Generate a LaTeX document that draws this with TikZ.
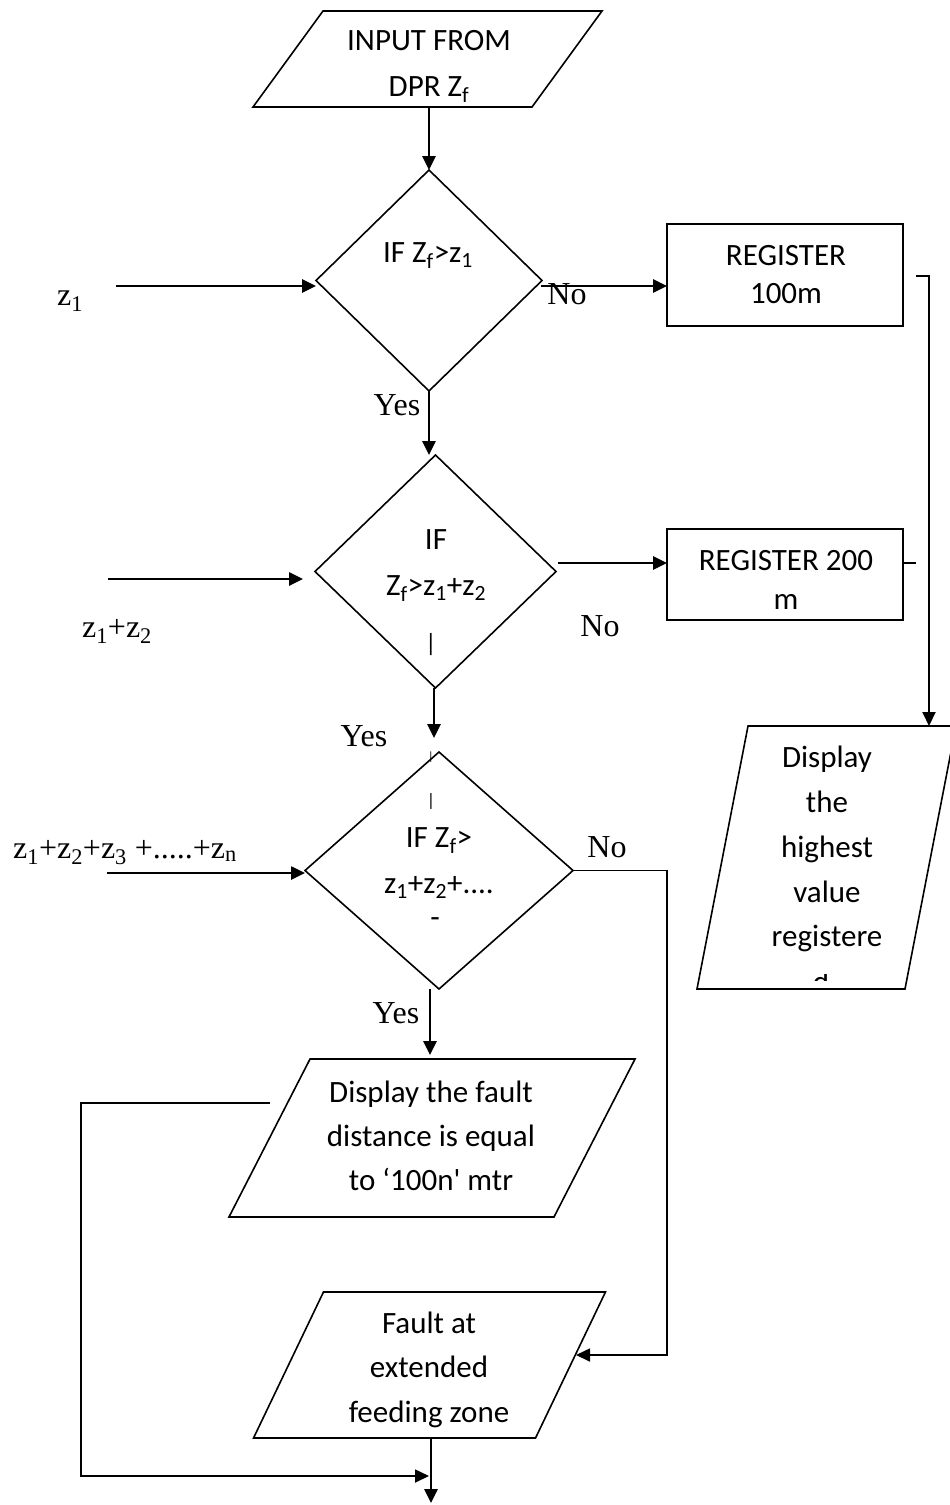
\documentclass[tikz,border=0pt]{standalone}
\usepackage{fontspec}
\setmainfont{Liberation Serif}
\newfontfamily\boxfont{Carlito}[Ligatures=TeXOff]
\usetikzlibrary{arrows.meta,shapes.geometric}
\newcommand\subidx[1]{\textsubscript{#1}}

\begin{document}
\begin{tikzpicture}[x=1pt,y=-1pt,
  outline/.style={draw=black, line width=1.6pt, inner sep=0pt, outer sep=0pt},
  decide/.style={outline, diamond},
  regbox/.style={outline, rectangle},
  iobox/.style={outline, rectangle, xslant=#1},
  flow/.style={line width=2.6pt, -{Triangle[length=14pt,width=13pt]}},
  flowthin/.style={line width=1.7pt, -{Triangle[length=14pt,width=13pt]}},
  plain/.style={line width=1.7pt},
  boxtxt/.style={font=\boxfont\fontsize{31}{#1}\selectfont, align=center, inner sep=0pt},
  boxtxt/.default=45,
  frag/.style={font=\boxfont\fontsize{#1}{#1}\selectfont, inner sep=0pt},
  lbl/.style={font=\fontsize{32}{38}\selectfont, inner sep=0pt, anchor=base},
]
\useasboundingbox (0,0) rectangle (950,1505);
\fill[white] (0,0) rectangle (950,1505);
\clip (0,0) rectangle (950,1505);

% ---------- shapes ----------
\node[iobox=0.729, minimum width=279pt, minimum height=96pt] (in) at (427.5,59) {};
\node[decide, minimum width=226pt, minimum height=221pt] (d1) at (429,280.5) {};
\node[regbox, minimum width=236pt, minimum height=102pt] (r1) at (785,275) {};
\node[decide, minimum width=241pt, minimum height=233pt] (d2) at (435.5,571.5) {};
\node[regbox, minimum width=236pt, minimum height=91pt] (r2) at (785,574.5) {};
\node[decide, minimum width=268pt, minimum height=237pt] (d3) at (439,870.5) {};
\node[iobox=0.194, minimum width=208pt, minimum height=263pt] (rd) at (826.5,857.5) {};
\node[iobox=0.513, minimum width=325pt, minimum height=158pt] (df) at (432,1138) {};
\node[iobox=0.479, minimum width=282pt, minimum height=146pt] (fz) at (429.5,1365) {};

% ---------- texts inside shapes ----------
\node[boxtxt=46] (tin) at (429,63.8) {\strut INPUT FROM\\\strut DPR Z\subidx{f}};
\node[boxtxt] (t1) at (428,253) {\strut IF Z\subidx{f}>z\subidx{1}};
\node[boxtxt=38] (tr1) at (786,276.4) {\strut REGISTER\\\strut 100m};
\node[boxtxt=46] (t2) at (436,562.8) {\strut IF\\\strut Z\subidx{f}>z\subidx{1}+z\subidx{2}};
\node[frag=25] (f2) at (431,645) {|};
\node[boxtxt=39] (tr2) at (786,581.7) {\strut REGISTER 200\\\strut m};
\node[frag=12] (f3a) at (431,757.5) {|};
\node[frag=18] (f3b) at (431,801.5) {|};
\node[boxtxt=46] (t3) at (439,860.8) {\strut IF Z\subidx{f}>\\\strut z\subidx{1}+z\subidx{2}+....};
\node[frag=31] (f3c) at (435,923) {-};
\node[boxtxt=44.75] (trd) at (827,848.5) {\strut Display\\\strut the\\\strut highest\\\strut value\\\strut registere};
\begin{scope}
  \clip (790,974) rectangle (860,980);
  \node[frag=31, anchor=base] (trdd) at (821,992) {d};
\end{scope}
\node[boxtxt=44] (tdf) at (431,1137.2) {\strut Display the fault\\\strut distance is equal\\\strut to ‘100n' mtr};
\node[boxtxt=44.5] (tfz) at (429,1368.6) {\strut Fault at\\\strut extended\\\strut feeding zone};

% ---------- labels ----------
\node[lbl] (lz1) at (70,305) {z\subidx{1}};
\node[lbl] (lno1) at (567,304) {No};
\node[lbl] (lyes1) at (397,415) {Yes};
\node[lbl] (lz2) at (117,637) {z\subidx{1}+z\subidx{2}};
\node[lbl] (lno2) at (600,636) {No};
\node[lbl] (lyes2) at (364,746) {Yes};
\node[lbl] (lz3) at (125,858) {z\subidx{1}+z\subidx{2}+z\subidx{3} +.....+z\subidx{n}};
\node[lbl] (lno3) at (607,857) {No};
\node[lbl] (lyes3) at (396,1023) {Yes};

% ---------- connector end points ----------
\coordinate (z1s) at (116,286);
\coordinate (n1s) at (541,286);
\coordinate (t1a) at (916,276);
\coordinate (t1b) at (929,276);
\coordinate (t2a) at (903,563);
\coordinate (t2b) at (916,563);
\coordinate (z2s) at (108,579);
\coordinate (z2e) at (303,579);
\coordinate (n2s) at (558,563);
\coordinate (y2e) at (434,738);
\coordinate (z3s) at (107,873);
\coordinate (n3c) at (667,1355);
\coordinate (n3e) at (576,1355);
\coordinate (y3e) at (430,1055);
\coordinate (fb1) at (270,1103);
\coordinate (fb2) at (81,1103);
\coordinate (fbe) at (429,1476);
\coordinate (out) at (431,1503);

% ---------- connectors ----------
\draw[flow] (d1.north |- in.south) -- (d1.north);
\draw[flow] (z1s) -- (z1s -| d1.west);
\draw[flow] (n1s) -- (n1s -| r1.west);
\draw[flow, line width=2pt] (t1a) -- (t1b) -- (t1b |- rd.north);
\draw[plain] (t2a) -- (t2b);
\draw[flow] (d1.south) -- (d1.south |- d2.north);
\draw[flow] (z2s) -- (z2e);
\draw[flow] (n2s) -- (n2s -| r2.west);
\draw[flow] (y2e |- d2.south) -- (y2e);
\draw[flow] (z3s) -- (z3s -| d3.west);
\draw[flowthin] (d3.east) -| (n3c) -- (n3e);
\draw[flow] (y3e |- d3.south) -- (y3e);
\draw[flowthin] (fb1) -- (fb2) |- (fbe);
\draw[flow] (out |- fz.south) -- (out);
\end{tikzpicture}
\end{document}
